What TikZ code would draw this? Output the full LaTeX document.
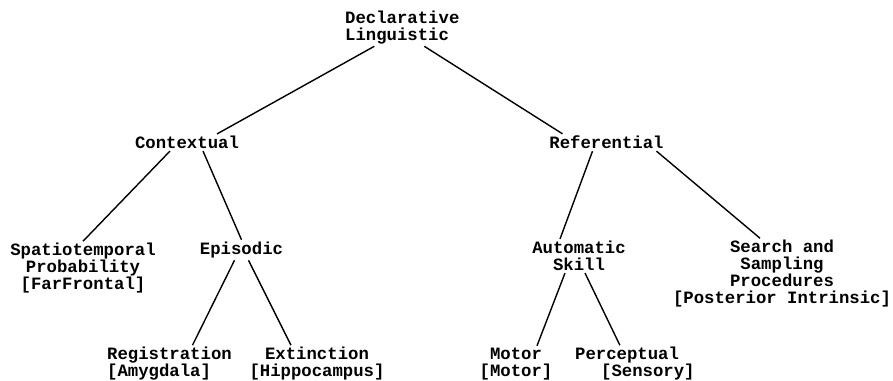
\documentclass[tikz,border=0pt]{standalone}
\usepackage{fontspec}
\setmonofont{Liberation Mono}
\begin{document}
\begin{tikzpicture}[x=1pt,y=-1pt]
    \useasboundingbox[fill=white] (0,0) rectangle (893,380);
    \begin{scope}
        \tikzstyle{every node}=[inner sep=2pt, text=black, font=\ttfamily\bfseries\fontsize{17.3}{17}\selectfont]
        \node[anchor=west, align=left] (decl) at (343,27.5) {Declarative\\Linguistic};
        \node (ctx) at (187,142.5) {Contextual};
        \node (ref) at (606.5,142.5) {Referential};
        \node[align=center] (spat) at (83,268.5) {Spatiotemporal\\Probability\\{[FarFrontal]}};
        \node (epi) at (241.5,250) {Episodic};
        \node[align=center] (auto) at (579,256) {Automatic\\Skill};
        \node[align=center] (search) at (782,274) {Search and\\Sampling\\Procedures\\{[Posterior Intrinsic]}};
        \node[anchor=west, align=left] (reg) at (105,364) {Registration\\{[Amygdala]}};
        \node[align=center] (ext) at (317,364) {Extinction\\{[Hippocampus]}};
        \node[align=center] (motor) at (516,364) {Motor\\{[Motor]}};
        \node[anchor=west, align=left] (perc) at (573,364) {Perceptual\\\hspace*{1.5em}[Sensory]};
    \end{scope}
    \begin{scope}
        \tikzstyle{every edge}=[draw, line width=1.4pt]
        \path
        ([xshift=-28pt]decl.south) edge ([xshift=30pt]ctx.north)
        ([xshift=22pt]decl.south) edge ([xshift=-44pt]ref.north)
        ([xshift=-17pt]ctx.south) edge (spat.north)
        ([xshift=16pt]ctx.south) edge (epi.north)
        ([xshift=-7pt]epi.south) edge ([xshift=23pt]reg.north)
        ([xshift=7pt]epi.south) edge ([xshift=-26pt]ext.north)
        ([xshift=-14pt]ref.south) edge ([xshift=-19pt]auto.north)
        ([xshift=50pt]ref.south) edge ([xshift=-22pt]search.north)
        ([xshift=-14pt]auto.south) edge ([xshift=21pt]motor.north)
        ([xshift=6pt]auto.south) edge ([xshift=-15pt]perc.north);
    \end{scope}
\end{tikzpicture}
\end{document}
